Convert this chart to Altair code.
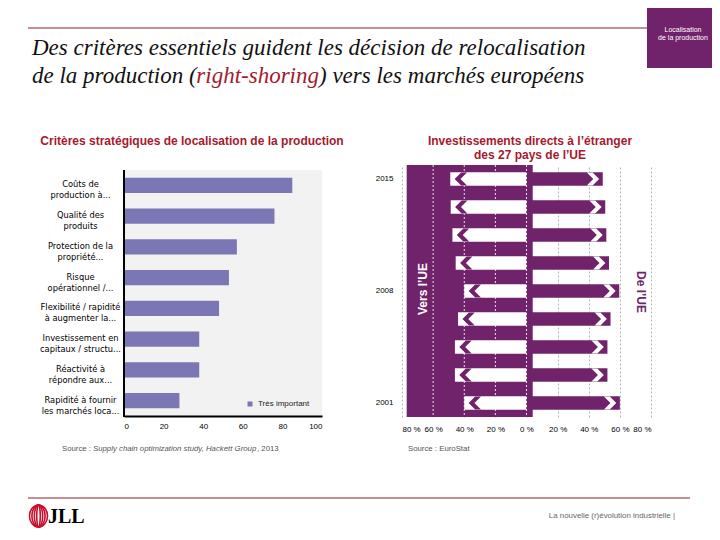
import altair as alt
import pandas as pd

# ---------------- data ----------------
criteres = [
    "Coûts de\nproduction à...",
    "Qualité des\nproduits",
    "Protection de la\npropriété...",
    "Risque\nopérationnel /...",
    "Flexibilité / rapidité\nà augmenter la...",
    "Investissement en\ncapitaux / structu...",
    "Réactivité à\nrépondre aux...",
    "Rapidité à fournir\nles marchés loca...",
]
tres_important = [85, 76, 57, 53, 48, 38, 38, 28]
serie_gauche = "Très important"
ticks_gauche = [0, 20, 40, 60, 80, 100]

annees = ["2015", "2013", "2012", "2010", "2008", "2006", "2005", "2003", "2001"]
annees_affichees = ["2015", "2008", "2001"]
vers_ue = [49, 48.7, 47.6, 45.5, 40, 44, 46, 46, 40]
de_ue = [49, 50.6, 51.3, 53, 59.6, 54, 52, 52, 60]
ticks_droite = [-80, -60, -40, -20, 0, 20, 40, 60, 80]
grille_blanche = [-60, -40, -20, 0]
bloc_vers = {"debut": [-77], "fin": [4]}

titre_l1 = "Des critères essentiels guident les décision de relocalisation"
titre_l2a = "de la production ("
titre_l2b = "right-shoring"
titre_l2c = ") vers les marchés européens"

PURPLE = "#70226a"
RED = "#a6192e"
LINE_RED = "#8c1d2e"
BAR = "#7b77b4"
FONT = "Liberation Sans"
SERIF = "Liberation Serif"

CHEV_L = "M -1 0 L 0 -1 L 0.9 -1 L -0.1 0 L 0.9 1 L 0 1 Z"
CHEV_R = "M 1 0 L 0 -1 L -0.9 -1 L 0.1 0 L -0.9 1 L 0 1 Z"


def ellipse(a):
    k = 0.5523
    return (f"M 0 -1 C {k*a:.3f} -1 {a:.3f} {-k:.3f} {a:.3f} 0 "
            f"C {a:.3f} {k:.3f} {k*a:.3f} 1 0 1 "
            f"C {-k*a:.3f} 1 {-a:.3f} {k:.3f} {-a:.3f} 0 "
            f"C {-a:.3f} {-k:.3f} {-k*a:.3f} -1 0 -1 Z")


def one():
    return pd.DataFrame({"a": [0]})


def txt(text, x, y, **kw):
    return alt.Chart(pd.DataFrame({"t": [text]})).mark_text(**kw).encode(
        x=alt.value(x), y=alt.value(y), text="t:N")


def hrule(x1, x2, y, color, width):
    return alt.Chart(one()).mark_rule(color=color, strokeWidth=width).encode(
        x=alt.value(x1), x2=alt.value(x2), y=alt.value(y))


def rect(x1, x2, y1, y2, **kw):
    return alt.Chart(one()).mark_rect(**kw).encode(
        x=alt.value(x1), x2=alt.value(x2), y=alt.value(y1), y2=alt.value(y2))


# ---------------- left chart ----------------
W1, H1 = 198, 251
df_left = pd.DataFrame({"critere": criteres, "valeur": tres_important,
                        "serie": [serie_gauche] * len(criteres)})
xs1 = alt.Scale(domain=[0, 100])
x_axis1 = alt.Axis(values=ticks_gauche, title=None, grid=False, ticks=False,
                   domainColor="black", domainWidth=2, labelPadding=6,
                   labelFontSize=8, labelColor="black", zindex=1)

bg = alt.Chart(one()).mark_rect(color="#f2f2f2").encode(
    x=alt.X(datum=0, scale=xs1, axis=x_axis1), x2=alt.X2(datum=100),
    y=alt.value(5), y2=alt.value(H1))

bars = alt.Chart(df_left).mark_bar().encode(
    x=alt.X("valeur:Q", scale=xs1, axis=x_axis1),
    y=alt.Y("critere:N", sort=criteres,
            scale=alt.Scale(range=[5, H1], paddingInner=0.5, paddingOuter=0.25),
            axis=alt.Axis(title=None, domain=False, ticks=False,
                          labelExpr="split(datum.label, '\\n')", labelPadding=44,
                          labelAlign="center", labelFont="DejaVu Sans",
                          labelFontSize=8.3, labelLineHeight=11, labelColor="black",
                          labelLimit=200)),
    color=alt.Color("serie:N", scale=alt.Scale(range=[BAR]),
                    legend=alt.Legend(title=None, orient="none", legendX=122, legendY=235,
                                      symbolType="square", symbolSize=25, labelFontSize=8,
                                      labelColor="#222", padding=0, symbolStrokeWidth=0,
                                      labelOffset=4)),
)

axis_left = alt.Chart(one()).mark_rule(color="black", strokeWidth=2).encode(
    x=alt.X(datum=0, scale=xs1, axis=x_axis1), y=alt.value(5), y2=alt.value(H1 + 1))

left_layers = [
    rect(-116, 588, -157, 367, opacity=0),                # page frame
    bg,
    bars,
    axis_left,
    # header
    hrule(-96, 523, -137, LINE_RED, 1.2),
    rect(523, 588, -157, -97, color=PURPLE),
    txt("Localisation", 559, -135, color="white", fontSize=7, font=FONT),
    txt("de la production", 559, -127, color="white", fontSize=7, font=FONT),
    txt(titre_l1, -92, -117, align="left", baseline="middle", font=SERIF,
        fontStyle="italic", fontSize=23, color="#111"),
    txt(titre_l2a, -92, -89, align="left", baseline="middle", font=SERIF,
        fontStyle="italic", fontSize=23, color="#111"),
    txt(titre_l2b, -92 + 164.3, -89, align="left", baseline="middle", font=SERIF,
        fontStyle="italic", fontSize=23, color=RED),
    txt(titre_l2c, -92 + 164.3 + 122.7, -89, align="left", baseline="middle", font=SERIF,
        fontStyle="italic", fontSize=23, color="#111"),
    # panel title
    txt("Critères stratégiques de localisation de la production", 68, -24,
        fontSize=12, fontWeight="bold", color=RED, font=FONT),
    # source
    txt("Source : ", -62, 284, align="left", fontSize=7.8, color="#555", font=FONT),
    txt("Supply chain optimization study, Hackett Group", -31, 284, align="left",
        fontSize=7.8, fontStyle="italic", color="#555", font=FONT),
    txt(", 2013", 133, 284, align="left", fontSize=7.8, color="#555", font=FONT),
    # footer
    hrule(-96, 566, 333, LINE_RED, 1.2),
    txt("JLL", -76, 352, align="left", baseline="middle", font=SERIF, fontWeight="bold",
        fontSize=20, color="black"),
    txt("La nouvelle (r)évolution industrielle |", 551, 351, align="right",
        fontSize=7.9, color="#666", font=FONT),
]
for a in [0.82, 0.6, 0.38, 0.16]:
    left_layers.append(
        alt.Chart(one()).mark_point(shape=ellipse(a), size=484, filled=False,
                                    stroke="#c8102e", strokeWidth=1.6, opacity=1)
        .encode(x=alt.value(-85.5), y=alt.value(351)))

left = alt.layer(*left_layers).properties(width=W1, height=H1)

# ---------------- right chart ----------------
W2, H2 = 249, 252
df_right = pd.DataFrame({"annee": annees, "vers": vers_ue, "de": de_ue})
xs = alt.Scale(domain=[-80, 80])
x_axis = alt.Axis(values=ticks_droite, title=None, grid=True, gridDash=[2, 2],
                  gridColor="#b5b5b5", ticks=False, domain=False,
                  labelExpr="abs(datum.value) + ' %'", labelPadding=8,
                  labelFontSize=8, labelColor="black", zindex=0)
y_enc = alt.Y("annee:N", sort=annees,
              scale=alt.Scale(paddingInner=0.52, paddingOuter=0.26),
              axis=alt.Axis(values=annees_affichees, title=None, ticks=False, domain=False,
                            labelPadding=9, labelFontSize=8, labelColor="black"))

block = alt.Chart(pd.DataFrame(bloc_vers)).mark_rect(color=PURPLE).encode(
    x=alt.X("debut:Q", scale=xs, axis=x_axis), x2="fin:Q",
    y=alt.value(0), y2=alt.value(H2))

white_bars = alt.Chart(df_right).transform_calculate(neg="-datum.vers", zero="0").mark_bar(
    color="white").encode(x=alt.X("neg:Q", scale=xs, axis=x_axis), x2="zero:Q", y=y_enc)

out_bars = alt.Chart(df_right).transform_calculate(zero="0").mark_bar(
    color=PURPLE).encode(x=alt.X("zero:Q", scale=xs, axis=x_axis), x2="de:Q", y=y_enc)

white_grid = alt.Chart(pd.DataFrame({"v": grille_blanche})).mark_rule(
    color="white", strokeDash=[2, 2], strokeWidth=1, opacity=0.85).encode(
    x=alt.X("v:Q", scale=xs, axis=x_axis), y=alt.value(0), y2=alt.value(H2))

chev_left = alt.Chart(df_right).transform_calculate(cx="-datum.vers + 7").mark_point(
    shape=CHEV_L, size=169, filled=True, color=PURPLE, strokeWidth=0, opacity=1).encode(
    x=alt.X("cx:Q", scale=xs, axis=x_axis), y=y_enc)

chev_right = alt.Chart(df_right).transform_calculate(cx="datum.de - 6.5").mark_point(
    shape=CHEV_R, size=169, filled=True, color="white", strokeWidth=0, opacity=1).encode(
    x=alt.X("cx:Q", scale=xs, axis=x_axis), y=y_enc)

right = alt.layer(
    block, white_bars, out_bars, white_grid, chev_left, chev_right,
    txt("Vers l’UE", 21, 124, angle=270, color="white", fontWeight="bold",
        fontSize=12, font=FONT),
    txt("De l’UE", 239, 127, angle=90, color=PURPLE, fontWeight="bold",
        fontSize=12, font=FONT),
    txt("Investissements directs à l’étranger", 128, -24, fontSize=12,
        fontWeight="bold", color=RED, font=FONT),
    txt("des 27 pays de l’UE", 128, -10, fontSize=12, fontWeight="bold",
        color=RED, font=FONT),
    txt("Source : EuroStat", 6, 284, align="left", fontSize=7.8, color="#555", font=FONT),
).properties(width=W2, height=H2)

chart = (
    alt.hconcat(left, right, spacing=80, bounds="flush")
    .resolve_scale(color="independent")
    .properties(padding=0)
    .configure(font=FONT)
    .configure_view(stroke=None, fill=None)
)

chart.save("out.html", embed_options={"renderer": "svg", "actions": False})
